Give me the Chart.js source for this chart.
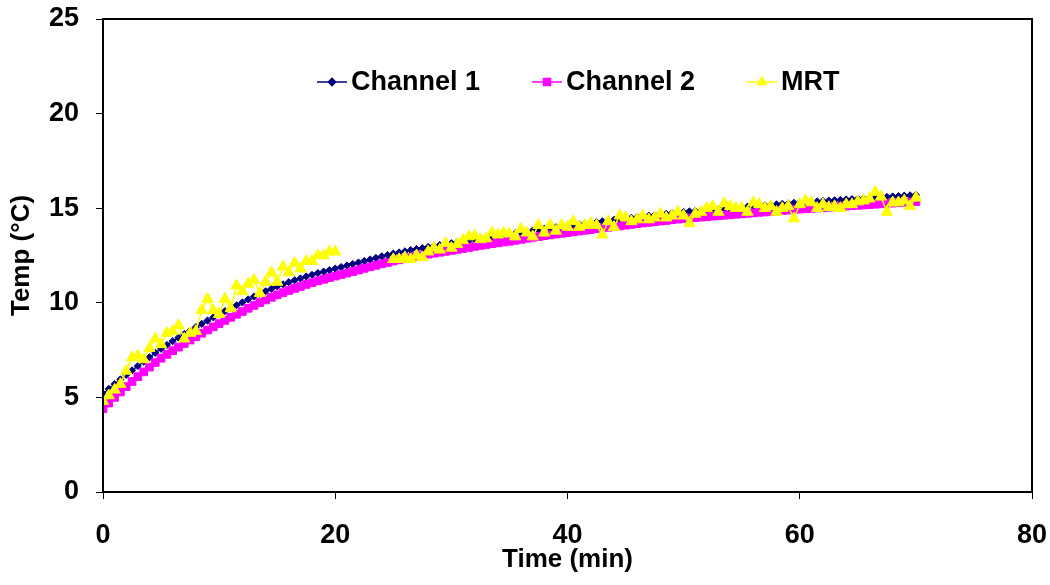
<!DOCTYPE html>
<html>
<head>
<meta charset="utf-8">
<title>Temperature over time</title>
<script src="https://cdn.jsdelivr.net/npm/chart.js@4/dist/chart.umd.min.js"></script>
<style>
  body { margin: 0; background: #fff; }
  #wrap { width: 1050px; height: 585px; }
</style>
</head>
<body>
<div id="wrap"><canvas id="tempChart" width="1050" height="585"></canvas></div>
<script>
// sample times (min), one reading every 30 s
const timeMin = [
  0, 0.5, 1, 1.5, 2, 2.5, 3, 3.5, 4, 4.5, 5, 5.5, 6, 6.5, 7, 7.5, 8, 8.5, 9, 9.5,
  10, 10.5, 11, 11.5, 12, 12.5, 13, 13.5, 14, 14.5, 15, 15.5, 16, 16.5, 17, 17.5, 18, 18.5, 19, 19.5,
  20, 20.5, 21, 21.5, 22, 22.5, 23, 23.5, 24, 24.5, 25, 25.5, 26, 26.5, 27, 27.5, 28, 28.5, 29, 29.5,
  30, 30.5, 31, 31.5, 32, 32.5, 33, 33.5, 34, 34.5, 35, 35.5, 36, 36.5, 37, 37.5, 38, 38.5, 39, 39.5,
  40, 40.5, 41, 41.5, 42, 42.5, 43, 43.5, 44, 44.5, 45, 45.5, 46, 46.5, 47, 47.5, 48, 48.5, 49, 49.5,
  50, 50.5, 51, 51.5, 52, 52.5, 53, 53.5, 54, 54.5, 55, 55.5, 56, 56.5, 57, 57.5, 58, 58.5, 59, 59.5,
  60, 60.5, 61, 61.5, 62, 62.5, 63, 63.5, 64, 64.5, 65, 65.5, 66, 66.5, 67, 67.5, 68, 68.5, 69, 69.5,
  70
];

const channel1 = [
  5.20, 5.45, 5.70, 5.95, 6.19, 6.43, 6.66, 6.89, 7.12, 7.35,
  7.57, 7.77, 7.97, 8.16, 8.35, 8.53, 8.71, 8.89, 9.06, 9.23,
  9.40, 9.56, 9.72, 9.87, 10.02, 10.18, 10.33, 10.47, 10.61, 10.74,
  10.87, 10.98, 11.09, 11.19, 11.29, 11.39, 11.48, 11.57, 11.65, 11.73,
  11.81, 11.89, 11.97, 12.05, 12.13, 12.21, 12.29, 12.37, 12.45, 12.52,
  12.60, 12.66, 12.72, 12.78, 12.84, 12.89, 12.95, 13.00, 13.05, 13.10,
  13.15, 13.20, 13.25, 13.30, 13.35, 13.40, 13.45, 13.49, 13.54, 13.58,
  13.62, 13.67, 13.72, 13.77, 13.82, 13.86, 13.91, 13.95, 13.99, 14.03,
  14.07, 14.11, 14.15, 14.19, 14.23, 14.27, 14.31, 14.34, 14.38, 14.41,
  14.45, 14.49, 14.53, 14.57, 14.60, 14.64, 14.67, 14.70, 14.74, 14.77,
  14.80, 14.83, 14.85, 14.88, 14.90, 14.93, 14.95, 14.98, 15.00, 15.03,
  15.05, 15.08, 15.10, 15.13, 15.15, 15.18, 15.20, 15.23, 15.25, 15.28,
  15.30, 15.32, 15.34, 15.36, 15.38, 15.40, 15.42, 15.44, 15.46, 15.48,
  15.50, 15.52, 15.54, 15.56, 15.58, 15.60, 15.62, 15.64, 15.66, 15.68,
  15.70
];

const channel2 = [
  4.40, 4.70, 5.00, 5.29, 5.57, 5.84, 6.10, 6.35, 6.60, 6.84,
  7.07, 7.27, 7.47, 7.66, 7.85, 8.03, 8.21, 8.39, 8.56, 8.73,
  8.90, 9.07, 9.23, 9.39, 9.54, 9.71, 9.86, 10.01, 10.15, 10.29,
  10.42, 10.54, 10.65, 10.76, 10.86, 10.97, 11.06, 11.16, 11.24, 11.33,
  11.41, 11.49, 11.57, 11.65, 11.73, 11.82, 11.90, 11.98, 12.06, 12.13,
  12.21, 12.27, 12.33, 12.39, 12.45, 12.51, 12.57, 12.62, 12.67, 12.72,
  12.77, 12.82, 12.87, 12.92, 12.98, 13.03, 13.08, 13.12, 13.17, 13.21,
  13.25, 13.30, 13.35, 13.41, 13.46, 13.50, 13.55, 13.59, 13.63, 13.67,
  13.71, 13.75, 13.79, 13.83, 13.87, 13.92, 13.96, 13.99, 14.03, 14.06,
  14.10, 14.14, 14.18, 14.22, 14.25, 14.29, 14.32, 14.35, 14.39, 14.42,
  14.45, 14.48, 14.50, 14.53, 14.55, 14.58, 14.60, 14.63, 14.65, 14.68,
  14.70, 14.73, 14.75, 14.78, 14.80, 14.83, 14.85, 14.88, 14.90, 14.93,
  14.95, 14.97, 14.99, 15.01, 15.03, 15.05, 15.07, 15.09, 15.11, 15.13,
  15.15, 15.17, 15.19, 15.21, 15.23, 15.25, 15.27, 15.29, 15.31, 15.33,
  15.35
];

// MRT logger dropped out between 20 and 25 min
const mrt = [
  4.8, 5.1, 5.4, 5.7, 6.4, 7.1, 7.2, 7.0, 7.6, 8.1,
  7.8, 8.4, 8.5, 8.8, 8.1, 8.4, 8.5, 9.6, 10.2, 9.6,
  9.4, 10.2, 9.7, 10.9, 10.6, 11.0, 11.2, 10.5, 11.1, 11.6,
  11.1, 11.9, 11.6, 12.1, 11.8, 12.2, 12.2, 12.5, 12.5, 12.7,
  12.7, null, null, null, null, null, null, null, null, null,
  12.3, 12.3, 12.4, 12.3, 12.5, 12.4, 12.7, 12.9, 12.8, 13.15,
  12.9, 13.1, 13.3, 13.5, 13.55, 13.35, 13.4, 13.7, 13.6, 13.7,
  13.65, 13.5, 13.9, 13.7, 13.5, 14.1, 13.7, 14.1, 13.8, 14.1,
  14.0, 14.3, 14.0, 14.1, 14.2, 14.1, 13.6, 14.3, 14.0, 14.6,
  14.5, 14.3, 14.4, 14.6, 14.4, 14.5, 14.7, 14.5, 14.6, 14.8,
  14.6, 14.2, 14.7, 14.8, 15.0, 15.1, 14.8, 15.25, 15.1, 15.0,
  15.0, 14.8, 15.3, 15.2, 15.0, 15.1, 14.8, 15.0, 15.1, 14.45,
  15.2, 15.4, 15.3, 15.0, 15.2, 15.05, 15.1, 15.0, 15.2, 15.2,
  15.35, 15.4, 15.5, 15.85, 15.6, 14.8, 15.3, 15.3, 15.4, 15.1,
  15.55
];

const xTicks = [0, 20, 40, 60, 80];
const yTicks = [0, 5, 10, 15, 20, 25];

const FONT = "'Liberation Sans', Arial, sans-serif";

function pairUp(values) {
  return timeMin.map((t, i) => ({ x: t, y: values[i] }));
}

// black frame round the plot area
const frame = {
  id: 'frame',
  afterDraw(chart) {
    const { ctx, chartArea: a } = chart;
    ctx.save();
    ctx.strokeStyle = '#000';
    ctx.lineWidth = 2;
    ctx.strokeRect(a.left, a.top, a.right - a.left, a.bottom - a.top);
    ctx.restore();
  }
};

function marker(ctx, style, x, y, r) {
  ctx.beginPath();
  if (style === 'rectRot') {
    ctx.moveTo(x, y - r); ctx.lineTo(x + r, y); ctx.lineTo(x, y + r); ctx.lineTo(x - r, y);
  } else if (style === 'rect') {
    const s = r * Math.SQRT1_2;
    ctx.rect(x - s, y - s, 2 * s, 2 * s);
  } else {
    const h = r * Math.sqrt(3) / 2;
    ctx.moveTo(x, y - r); ctx.lineTo(x + h, y + r / 2); ctx.lineTo(x - h, y + r / 2);
  }
  ctx.closePath();
  ctx.fill();
  ctx.stroke();
}

// legend sits inside the plot, one row
const inlineLegend = {
  id: 'inlineLegend',
  afterDraw(chart) {
    const { ctx } = chart;
    const startX = [317, 532, 747];
    const y = 82;
    ctx.save();
    chart.data.datasets.forEach((ds, i) => {
      const x = startX[i];
      ctx.strokeStyle = ds.borderColor;
      ctx.fillStyle = ds.backgroundColor;
      ctx.lineWidth = 1.5;
      ctx.beginPath();
      ctx.moveTo(x, y);
      ctx.lineTo(x + 30, y);
      ctx.stroke();
      marker(ctx, ds.pointStyle, x + 15, y, Math.min(ds.pointRadius, 5));
      ctx.fillStyle = '#000';
      ctx.font = 'bold 27px ' + FONT;
      ctx.textBaseline = 'middle';
      ctx.textAlign = 'left';
      ctx.fillText(ds.label, x + 34, y + 1);
    });
    ctx.restore();
  }
};

const ctx = document.getElementById('tempChart').getContext('2d');

new Chart(ctx, {
  type: 'line',
  data: {
    datasets: [
      {
        label: 'Channel 1',
        data: pairUp(channel1),
        borderColor: '#000080',
        backgroundColor: '#000080',
        borderWidth: 1.5,
        pointStyle: 'rectRot',
        pointRadius: 3.6,
        pointBorderWidth: 1,
        order: 2
      },
      {
        label: 'Channel 2',
        data: pairUp(channel2),
        borderColor: '#FF00FF',
        backgroundColor: '#FF00FF',
        borderWidth: 1.5,
        pointStyle: 'rect',
        pointRadius: 5.4,
        pointBorderWidth: 1,
        order: 1
      },
      {
        label: 'MRT',
        data: pairUp(mrt),
        borderColor: '#FFFF00',
        backgroundColor: '#FFFF00',
        borderWidth: 1.5,
        pointStyle: 'triangle',
        pointRadius: 6.5,
        pointBorderWidth: 1,
        spanGaps: false,
        order: 0
      }
    ]
  },
  options: {
    responsive: false,
    devicePixelRatio: 1,
    animation: false,
    events: [],
    layout: { padding: { top: 19, right: 18, left: 0, bottom: 0 } },
    plugins: {
      legend: { display: false },
      tooltip: { enabled: false }
    },
    scales: {
      x: {
        type: 'linear',
        min: 0,
        max: 80,
        afterFit(scale) {
          scale.height = 93;
          scale.paddingLeft = 0;
          scale.paddingRight = 0;
        },
        afterBuildTicks(scale) { scale.ticks = xTicks.map(v => ({ value: v })); },
        grid: { drawOnChartArea: false, drawTicks: true, tickLength: 7, color: '#000', lineWidth: 1 },
        border: { display: true, color: '#000', width: 2 },
        ticks: { color: '#000', padding: 20, maxRotation: 0, font: { family: FONT, size: 27, weight: 'bold' } },
        title: {
          display: true,
          text: 'Time (min)',
          color: '#000',
          padding: { top: 0, bottom: 10 },
          font: { family: FONT, size: 26, weight: 'bold' }
        }
      },
      y: {
        type: 'linear',
        min: 0,
        max: 25,
        afterFit(scale) {
          scale.width = 103;
          scale.paddingTop = 0;
          scale.paddingBottom = 0;
        },
        afterBuildTicks(scale) { scale.ticks = yTicks.map(v => ({ value: v })); },
        grid: { drawOnChartArea: false, drawTicks: true, tickLength: 7, color: '#000', lineWidth: 1 },
        border: { display: true, color: '#000', width: 2 },
        ticks: { color: '#000', padding: 17, font: { family: FONT, size: 27, weight: 'bold' } },
        title: {
          display: true,
          text: 'Temp (°C)',
          color: '#000',
          padding: { top: 6, bottom: 0 },
          font: { family: FONT, size: 26, weight: 'bold' }
        }
      }
    }
  },
  plugins: [frame, inlineLegend]
});
</script>
</body>
</html>
